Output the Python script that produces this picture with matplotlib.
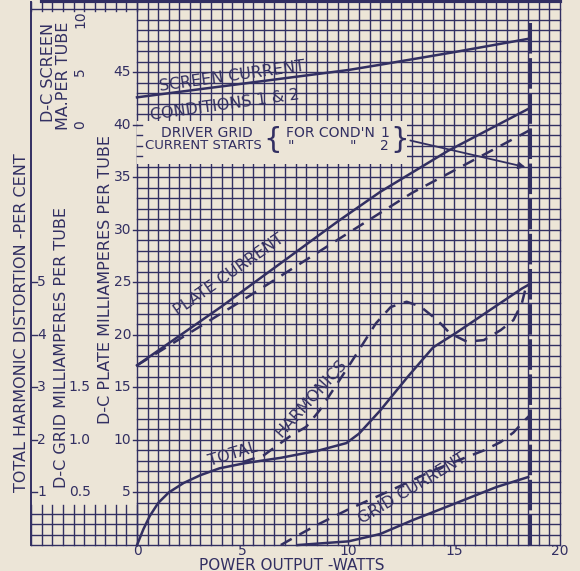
import matplotlib.pyplot as plt
import numpy as np

# ---- data (x = power output, watts; y in plate-mA units) ----
# plate current, condition 1 (solid) and 2 (dashed), mA
plate1_w = [0, 4, 9.5, 11.5, 14.7, 18.6]
plate1_ma = [17.1, 22.7, 30.8, 33.6, 37.5, 41.6]
plate2_w = [0, 5, 10, 13, 18.6]
plate2_ma = [17.1, 23.3, 29.7, 33.5, 39.5]

# screen current, conditions 1 & 2, mA per tube
screen_w = [0, 5, 10, 11.5, 15, 18.6]
screen_ma = [2.6, 3.9, 5.2, 5.7, 6.9, 8.2]

# total harmonic distortion, per cent
harm1_w = [0, 0.3, 0.6, 1.0, 1.5, 2.2, 3.0, 3.9, 5.0, 5.8, 6.8, 8.6, 9.9, 10.5,
           11.5, 12.8, 14.0, 15.1, 16.5, 18.2, 18.55]
harm1_pct = [0, 0.3, 0.55, 0.8, 1.0, 1.18, 1.33, 1.46, 1.55, 1.6, 1.66, 1.8,
             1.94, 2.12, 2.56, 3.2, 3.76, 4.04, 4.42, 4.88, 4.96]
harm2_w = [5.0, 5.7, 6.0, 7.2, 8.0, 8.65, 10.1, 10.7, 11.3, 12.0, 12.75, 13.4,
           14.2, 14.8, 15.6, 16.4, 17.2, 17.8, 18.2, 18.4, 18.55]
harm2_pct = [1.58, 1.67, 1.71, 2.06, 2.25, 2.57, 3.46, 3.84, 4.22, 4.53, 4.63,
             4.54, 4.28, 4.03, 3.87, 3.9, 4.09, 4.28, 4.6, 4.92, 5.0]

# d-c grid current, mA per tube
grid1_w = [7.6, 10, 11.5, 13.05, 15.1, 17.0, 18.5]
grid1_ma = [0, 0.035, 0.105, 0.238, 0.40, 0.552, 0.647]
grid2_w = [6.8, 7.5, 8.5, 10, 12, 14, 15.5, 16.4, 17.2, 17.8, 18.35, 18.55]
grid2_ma = [0, 0.08, 0.19, 0.34, 0.52, 0.71, 0.83, 0.90, 0.98, 1.07, 1.19, 1.23]

x_ticks = [0, 5, 10, 15, 20]
plate_ticks = [5, 10, 15, 20, 25, 30, 35, 40, 45]
grid_ticks = [0.5, 1.0, 1.5]
dist_ticks = [1, 2, 3, 4, 5]
screen_ticks = [0, 5, 10]
rated_w = 18.6

paper = '#ECE5D7'
ink = '#322F62'

fig = plt.figure(figsize=(5.8, 5.71), dpi=100, facecolor=paper)
ax = fig.add_axes([0, 0, 1, 1])
ax.set_facecolor(paper)
ax.set_xlim(-6.48, 20.95)
ax.set_ylim(-2.47, 51.86)
ax.axis('off')

glw = 1.0
# main grid
for x in np.arange(0, 20.01, 0.5):
    ax.plot([x, x], [0, 51.7], color=ink, lw=glw, zorder=1)
for y in range(0, 52):
    ax.plot([0, 20], [y, y], color=ink, lw=glw, zorder=1)
# bottom-left strip
for x in np.arange(-5, 0.01, 0.5):
    ax.plot([x, x], [0, 3.8], color=ink, lw=glw, zorder=1)
for y in range(0, 4):
    ax.plot([-5, 0], [y, y], color=ink, lw=glw, zorder=1)
# top-left strip
for x in np.arange(-5, 0.01, 0.5):
    ax.plot([x, x], [50.8, 51.7], color=ink, lw=glw, zorder=1)
ax.plot([-5, 0], [51, 51], color=ink, lw=glw, zorder=1)
# frame
ax.plot([-5, -5], [0, 51.7], color=ink, lw=1.4, zorder=2)
ax.plot([-4.5, 20], [51.75, 51.75], color=ink, lw=3, zorder=2)

# blank box for the driver-grid note
ax.fill_between([0.02, 12.75], 36.3, 40.35, color=paper, lw=0, zorder=2)
for y in range(37, 41):
    ax.plot([0, 0.25], [y, y], color=ink, lw=glw, zorder=3)

# axis ticks and labels
for v in plate_ticks:
    ax.plot([-0.2, 0], [v, v], color=ink, lw=glw, zorder=3)
    ax.text(-0.28, v, str(v), color=ink, fontsize=10, ha='right', va='center')
for v in x_ticks:
    ax.text(v, -0.6, str(v), color=ink, fontsize=10, ha='center', va='center')
for v in grid_ticks:
    ax.text(-2.7, v * 10, f'{v:.1f}', color=ink, fontsize=10, ha='center', va='center')
for v in dist_ticks:
    ax.plot([-5, -4.75], [v * 5, v * 5], color=ink, lw=glw)
    ax.text(-4.52, v * 5, str(v), color=ink, fontsize=10, ha='center', va='center')
for v in screen_ticks:
    ax.text(-2.68, 40 + v, str(v), color=ink, fontsize=10, ha='center', va='center',
            rotation=90)

ax.text(7.33, -1.9, 'POWER OUTPUT -WATTS', color=ink, fontsize=11, ha='center', va='center')
ax.text(-1.51, 25.3, 'D-C PLATE MILLIAMPERES PER TUBE', color=ink, fontsize=11.5,
        rotation=90, ha='center', va='center')
ax.text(-3.55, 18.8, 'D-C GRID MILLIAMPERES PER TUBE', color=ink, fontsize=11.5,
        rotation=90, ha='center', va='center')
ax.text(-5.44, 21.2, 'TOTAL HARMONIC DISTORTION -PER CENT', color=ink, fontsize=11.5,
        rotation=90, ha='center', va='center')
ax.text(-4.2, 45.0, 'D-C SCREEN', color=ink, fontsize=11.5, rotation=90,
        ha='center', va='center')
ax.text(-3.47, 44.6, 'MA.PER TUBE', color=ink, fontsize=11.5, rotation=90,
        ha='center', va='center')

# curves
lw = 1.8
dash = (0, (5, 3.5))
ax.plot(plate1_w, plate1_ma, color=ink, lw=lw, zorder=4)
ax.plot(plate2_w, plate2_ma, color=ink, lw=lw, ls=dash, zorder=4)
ax.plot(screen_w, np.array(screen_ma) + 40, color=ink, lw=lw, zorder=4)
ax.plot(harm1_w, np.array(harm1_pct) * 5, color=ink, lw=lw, zorder=4)
ax.plot(harm2_w, np.array(harm2_pct) * 5, color=ink, lw=lw, ls=dash, zorder=4)
ax.plot(grid1_w, np.array(grid1_ma) * 10, color=ink, lw=lw, zorder=4)
ax.plot(grid2_w, np.array(grid2_ma) * 10, color=ink, lw=lw, ls=dash, zorder=4)
ax.plot([rated_w, rated_w], [0, 50], color=ink, lw=2.2, ls=(0, (10, 1.5)), zorder=4)

# driver grid note
ax.text(3.3, 39.2, 'DRIVER GRID', color=ink, fontsize=10, ha='center', va='center', zorder=5)
ax.text(3.15, 38.0, 'CURRENT STARTS', color=ink, fontsize=9.5, ha='center', va='center', zorder=5)
ax.text(6.4, 38.55, '{', color=ink, fontsize=21, ha='center', va='center', zorder=5)
ax.text(7.05, 39.2, "FOR COND'N", color=ink, fontsize=10, ha='left', va='center', zorder=5)
ax.text(11.7, 39.2, '1', color=ink, fontsize=10, ha='center', va='center', zorder=5)
ax.text(7.3, 38.0, '"', color=ink, fontsize=10, ha='center', va='center', zorder=5)
ax.text(10.2, 38.0, '"', color=ink, fontsize=10, ha='center', va='center', zorder=5)
ax.text(11.7, 38.0, '2', color=ink, fontsize=10, ha='center', va='center', zorder=5)
ax.text(12.4, 38.55, '}', color=ink, fontsize=21, ha='center', va='center', zorder=5)
ax.annotate('', xy=(18.5, 35.9), xytext=(12.8, 38.55),
            arrowprops=dict(arrowstyle='-|>', color=ink, lw=1.3, mutation_scale=10), zorder=5)

# curve labels
ax.text(4.49, 44.6, 'SCREEN CURRENT', color=ink, fontsize=11.5, rotation=8,
        ha='center', va='center', zorder=5)
ax.text(4.16, 41.9, 'CONDITIONS 1 & 2', color=ink, fontsize=11.5, rotation=8,
        ha='center', va='center', zorder=5)
ax.text(4.35, 25.7, 'PLATE CURRENT', color=ink, fontsize=11.5, rotation=35,
        ha='center', va='center', zorder=5)
ax.text(4.54, 8.6, 'TOTAL', color=ink, fontsize=11.5, rotation=17,
        ha='center', va='center', zorder=5)
ax.text(8.23, 14.0, 'HARMONICS', color=ink, fontsize=11.5, rotation=48,
        ha='center', va='center', zorder=5)
ax.text(13.0, 5.4, 'GRID CURRENT', color=ink, fontsize=11.5, rotation=31,
        ha='center', va='center', zorder=5)

fig.savefig('out.png', dpi=100, facecolor=paper)
